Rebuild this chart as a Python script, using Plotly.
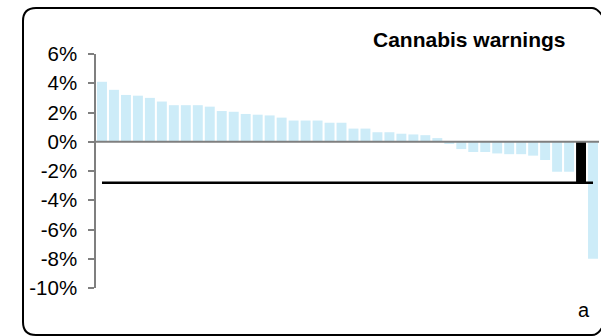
import plotly.graph_objects as go

# ---- data ----
categories = [str(i) for i in range(1, 43)]
values = [4.1, 3.55, 3.2, 3.15, 3.0, 2.75, 2.5, 2.5, 2.5, 2.4,
          2.1, 2.05, 1.9, 1.85, 1.8, 1.65, 1.45, 1.45, 1.45, 1.3,
          1.3, 0.9, 0.9, 0.65, 0.65, 0.55, 0.5, 0.45, 0.25, -0.15,
          -0.5, -0.7, -0.7, -0.8, -0.85, -0.85, -0.95, -1.25, -2.05, -2.05,
          -2.8, -8.0]
highlight_category = "41"
average_value = -2.8
tick_values = [6, 4, 2, 0, -2, -4, -6, -8, -10]
tick_labels = ["6%", "4%", "2%", "0%", "-2%", "-4%", "-6%", "-8%", "-10%"]
title_text = "Cannabis warnings"
panel_label = "a"

# ---- layout geometry (body margin removed by post_script) ----
W, H = 601, 336
ML, MR, MT, MB = 96, 2, 54, 48
PW, PH = W - ML - MR, H - MT - MB

def px(x_page):
    return (x_page - ML) / PW

def py(y_page):
    return (H - MB - y_page) / PH

FONT = "Arial, Liberation Sans, sans-serif"
BAR_COLOR = "#cdecf8"
colors = ["#000000" if c == highlight_category else BAR_COLOR for c in categories]

fig = go.Figure()
fig.add_trace(go.Bar(x=categories, y=values, marker=dict(color=colors, line=dict(width=0)),
                     hoverinfo="x+y"))
fig.add_trace(go.Scatter(x=categories, y=[average_value] * len(categories), mode="lines",
                         line=dict(color="#000000", width=2.5), hoverinfo="skip"))

# rounded border around the whole chart (page pixel coordinates converted to paper);
# the right edge lies just outside the visible window, as in the original
L, T, B, r = 23, 8, 335, 13
R_TOP, R_BOT = 612, 608
path = (f"M {px(L + r)},{py(T)} L {px(592)},{py(T)} Q {px(601)},{py(T)} {px(R_TOP)},{py(T + 2 * r)} "
        f"L {px(R_BOT)},{py(B - 2 * r)} Q {px(603)},{py(B)} {px(592)},{py(B)} "
        f"L {px(L + r)},{py(B)} Q {px(L)},{py(B)} {px(L)},{py(B - r)} "
        f"L {px(L)},{py(T + r)} Q {px(L)},{py(T)} {px(L + r)},{py(T)}")

shapes = [
    dict(type="path", xref="paper", yref="paper", path=path,
         line=dict(color="#000000", width=2), layer="above"),
    dict(type="line", xref="paper", yref="y", x0=0, x1=1, y0=0, y1=0,
         line=dict(color="#7f7f7f", width=2), layer="above"),
]

fig.update_layout(
    width=W, height=H,
    margin=dict(l=ML, r=MR, t=MT, b=MB, pad=0),
    paper_bgcolor="white", plot_bgcolor="white",
    showlegend=False,
    bargap=0.17,
    font=dict(family=FONT, color="#000000"),
    shapes=shapes,
    xaxis=dict(visible=False, type="category", range=[-0.5, len(categories) - 0.5]),
    yaxis=dict(range=[-10, 6], tickmode="array", tickvals=tick_values, ticktext=tick_labels,
               showgrid=False, zeroline=False, showline=True, linecolor="#7f7f7f", linewidth=1.5,
               ticks="outside", ticklen=6, tickwidth=1.5, tickcolor="#7f7f7f",
               tickfont=dict(size=20.5, family=FONT, color="#000000"), ticklabelstandoff=7),
    annotations=[
        dict(text=f"<b>{title_text}</b>", xref="paper", yref="paper", x=px(568), y=py(39),
             xanchor="right", yanchor="middle", showarrow=False,
             font=dict(size=21, family=FONT, color="#000000")),
        dict(text=panel_label, xref="paper", yref="paper", x=px(584), y=py(310),
             xanchor="center", yanchor="middle", showarrow=False,
             font=dict(size=20, family=FONT, color="#000000")),
    ],
)

fig.write_html("out.html", config={"displayModeBar": False},
               post_script="document.body.style.margin='0';document.body.style.overflow='hidden';")
